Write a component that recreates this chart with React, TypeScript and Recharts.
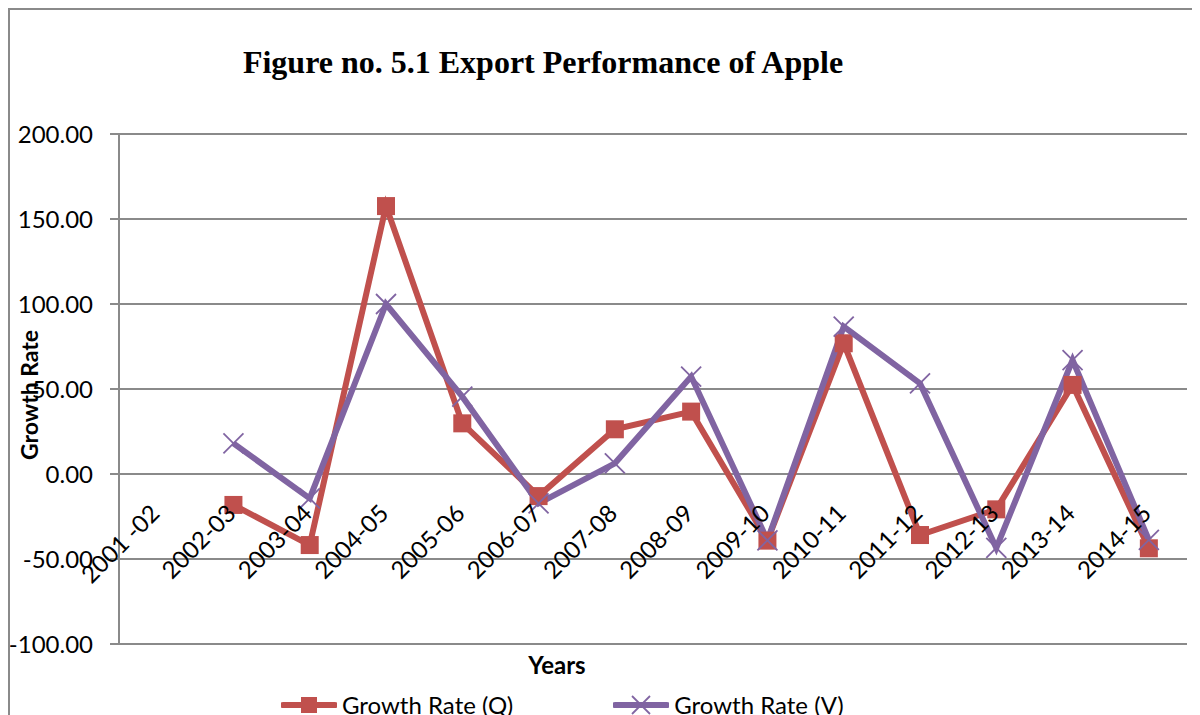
import React from 'react';
import { LineChart, Line, XAxis, YAxis, CartesianGrid, Legend } from 'recharts';

const years = ['2001 -02', '2002-03', '2003-04', '2004-05', '2005-06', '2006-07', '2007-08', '2008-09', '2009-10', '2010-11', '2011-12', '2012-13', '2013-14', '2014-15'];
const growthQ = [null, -18.2, -41.8, 157.6, 29.8, -13.0, 26.3, 36.7, -39.2, 76.9, -35.9, -20.8, 52.4, -43.7];
const growthV = [null, 18.0, -14.3, 100.0, 45.5, -17.3, 6.3, 57.3, -39.0, 86.7, 53.3, -43.5, 67.0, -38.8];
const yTicks = [-100, -50, 0, 50, 100, 150, 200];

const data = years.map((year, i) => ({ year, q: growthQ[i], v: growthV[i] }));

const RED = '#C0504D';
const PURPLE = '#8064A2';
const GRID = '#8a8a8a';
const FONT = 'Lato, "Open Sans", sans-serif';

const SquareDot = (props: any) => {
  const { cx, cy, index } = props;
  if (cx == null || cy == null) return <g key={`q-${index}`} />;
  return <rect key={`q-${index}`} x={cx - 9} y={cy - 9} width={18} height={18} fill={RED} />;
};

const CrossDot = (props: any) => {
  const { cx, cy, index } = props;
  if (cx == null || cy == null) return <g key={`v-${index}`} />;
  return (
    <g key={`v-${index}`} stroke={PURPLE} strokeWidth={1.8}>
      <line x1={cx - 10} y1={cy - 10} x2={cx + 10} y2={cy + 10} />
      <line x1={cx - 10} y1={cy + 10} x2={cx + 10} y2={cy - 10} />
    </g>
  );
};

// Excel puts the category labels just under the zero line, not at the bottom
const YearTick = (props: any) => {
  const { x, y, payload } = props;
  return (
    <text
      transform={`translate(${x + 4},${y - 129}) rotate(-45)`}
      textAnchor="end"
      fontFamily={FONT}
      fontSize={24}
      fill="#000"
    >
      {payload.value}
    </text>
  );
};

const LegendContent = () => (
  <div style={{ display: 'flex', alignItems: 'center', fontFamily: FONT, fontSize: 24, color: '#000', whiteSpace: 'nowrap' }}>
    <div style={{ display: 'flex', alignItems: 'center', marginRight: 100 }}>
      <svg width={56} height={24}>
        <line x1={2} y1={12} x2={54} y2={12} stroke={RED} strokeWidth={6} strokeLinecap="round" />
        <rect x={20} y={4} width={16} height={16} fill={RED} />
      </svg>
      <span style={{ marginLeft: 5 }}>Growth Rate (Q)</span>
    </div>
    <div style={{ display: 'flex', alignItems: 'center' }}>
      <svg width={56} height={24}>
        <line x1={2} y1={12} x2={54} y2={12} stroke={PURPLE} strokeWidth={6} strokeLinecap="round" />
        <line x1={19} y1={3} x2={37} y2={21} stroke={PURPLE} strokeWidth={1.8} />
        <line x1={19} y1={21} x2={37} y2={3} stroke={PURPLE} strokeWidth={1.8} />
      </svg>
      <span style={{ marginLeft: 5 }}>Growth Rate (V)</span>
    </div>
  </div>
);

export default function App() {
  return (
    <div
      style={{
        position: 'relative',
        width: 1192,
        height: 707,
        boxSizing: 'border-box',
        borderLeft: '2px solid #8a8a8a',
        borderTop: '2px solid #8a8a8a',
        overflow: 'hidden',
        background: '#fff',
      }}
    >
      <div
        style={{
          position: 'absolute',
          left: 183,
          top: 34,
          width: 700,
          textAlign: 'center',
          fontFamily: '"Liberation Serif", "Times New Roman", serif',
          fontWeight: 'bold',
          fontSize: 32,
          lineHeight: '36px',
          color: '#000',
        }}
      >
        Figure no. 5.1 Export Performance of Apple
      </div>
      <LineChart width={1190} height={705} data={data} margin={{ top: 124, right: 13, bottom: 41, left: 0 }}>
        <CartesianGrid horizontal vertical={false} stroke={GRID} strokeWidth={2} />
        <XAxis
          dataKey="year"
          scale="band"
          height={30}
          axisLine={false}
          tickLine={false}
          tickSize={0}
          tickMargin={0}
          interval={0}
          tick={<YearTick />}
          label={{
            content: () => (
              <text x={547} y={664} textAnchor="middle" fontFamily={FONT} fontWeight="bold" fontSize={24} fill="#000">
                Years
              </text>
            ),
          }}
        />
        <YAxis
          width={109}
          domain={[-100, 200]}
          ticks={yTicks}
          interval={0}
          tickFormatter={(v: number) => v.toFixed(2)}
          axisLine={{ stroke: GRID, strokeWidth: 2 }}
          tickLine={{ stroke: GRID, strokeWidth: 2 }}
          tickSize={9}
          tickMargin={17}
          tick={{ fontFamily: FONT, fontSize: 24, fill: '#000' }}
          label={{
            content: () => (
              <text
                transform="translate(28,385) rotate(-90)"
                textAnchor="middle"
                fontFamily={FONT}
                fontWeight="bold"
                fontSize={23}
                fill="#000"
              >
                Growth Rate
              </text>
            ),
          }}
        />
        <Legend
          layout="horizontal"
          verticalAlign="middle"
          align="center"
          wrapperStyle={{ top: 680, left: 271, width: 'auto' }}
          content={<LegendContent />}
        />
        <Line
          type="linear"
          dataKey="q"
          name="Growth Rate (Q)"
          stroke={RED}
          strokeWidth={6}
          dot={SquareDot}
          activeDot={false}
          connectNulls={false}
          isAnimationActive={false}
        />
        <Line
          type="linear"
          dataKey="v"
          name="Growth Rate (V)"
          stroke={PURPLE}
          strokeWidth={6}
          dot={CrossDot}
          activeDot={false}
          connectNulls={false}
          isAnimationActive={false}
        />
      </LineChart>
    </div>
  );
}
